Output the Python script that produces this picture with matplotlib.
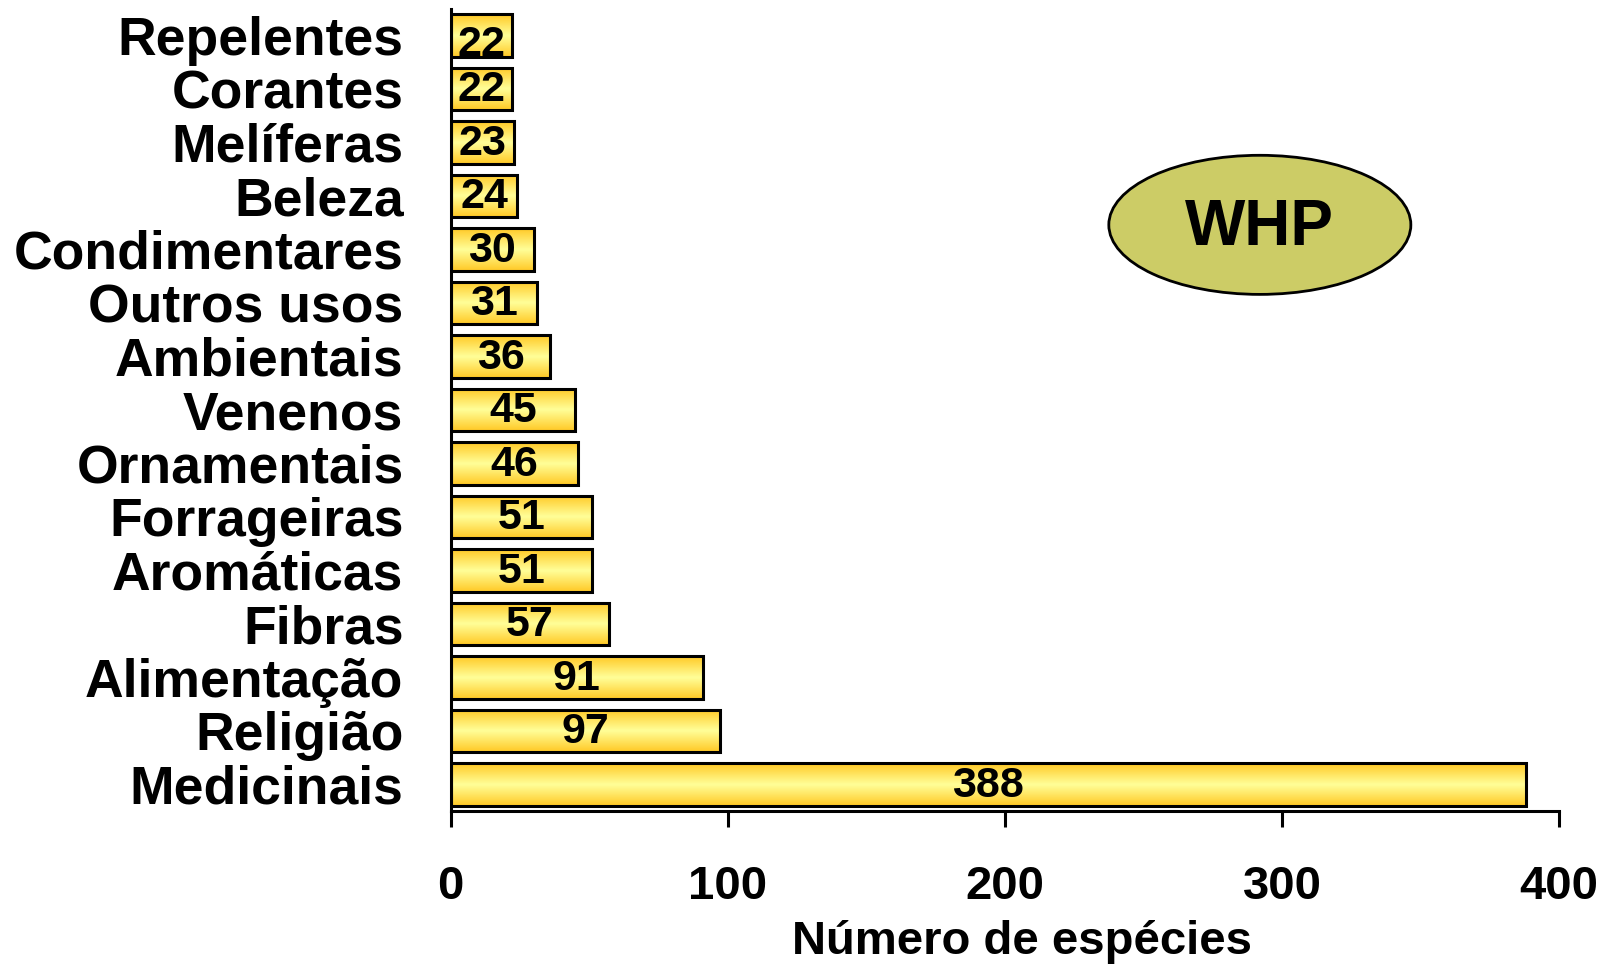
import numpy as np
import matplotlib.pyplot as plt
from matplotlib.colors import LinearSegmentedColormap
from matplotlib.patches import Ellipse

# uses of plant species (bottom to top)
categories = ['Medicinais', 'Religião', 'Alimentação', 'Fibras', 'Aromáticas',
              'Forrageiras', 'Ornamentais', 'Venenos', 'Ambientais', 'Outros usos',
              'Condimentares', 'Beleza', 'Melíferas', 'Corantes', 'Repelentes']
counts = [388, 97, 91, 57, 51, 51, 46, 45, 36, 31, 30, 24, 23, 22, 22]
x_ticks = [0, 100, 200, 300, 400]

plt.rcParams['font.family'] = ['Liberation Sans', 'DejaVu Sans']
plt.rcParams['font.weight'] = 'bold'

fig = plt.figure(figsize=(16.04, 9.68), dpi=100)
ax = fig.add_axes([0.281, 0.162, 0.691, 0.829])

y = np.arange(len(categories))
h = 0.8

# gold -> pale yellow -> gold gradient across each bar
cmap = LinearSegmentedColormap.from_list('gold', ['#FFC926', '#FFFF99', '#FFC926'])
grad = np.linspace(0, 1, 64).reshape(-1, 1)
for yi, v in zip(y, counts):
    ax.imshow(grad, cmap=cmap, aspect='auto', interpolation='bicubic',
              extent=(0, v, yi - h / 2, yi + h / 2), zorder=2)

ax.barh(y, counts, height=h, facecolor='none', edgecolor='black', linewidth=2.2, zorder=3)

for i, (yi, v) in enumerate(zip(y, counts)):
    # the top label sits a bit low in the original
    dy = -7 if i == len(counts) - 1 else -1
    ax.annotate(str(v), (v / 2, yi), xytext=(0, dy), textcoords='offset points',
                ha='center', va='center', fontsize=31, fontweight='bold', zorder=4)

ax.set_xlim(0, 400)
ax.set_ylim(-0.5, 14.5)
ax.set_yticks(y)
ax.set_yticklabels(categories, fontsize=38.5, fontweight='bold')
ax.set_xticks(x_ticks)
ax.set_xticklabels([str(t) for t in x_ticks], fontsize=34, fontweight='bold')
ax.tick_params(axis='y', length=0, pad=34)
ax.tick_params(axis='x', length=11.5, width=2.2, pad=27, direction='out')
ax.set_xlabel('Número de espécies', fontsize=34, fontweight='bold')
ax.xaxis.set_label_coords(0.515, -0.163)
ax.xaxis.label.set_va('center')

for s in ['top', 'right']:
    ax.spines[s].set_visible(False)
for s in ['left', 'bottom']:
    ax.spines[s].set_linewidth(2.2)

ell = Ellipse((292, 10.46), 109, 2.6, facecolor='#CCCC66', edgecolor='black',
              linewidth=2, zorder=5)
ax.add_patch(ell)
ax.text(292, 10.40, 'WHP', ha='center', va='center', fontsize=46,
        fontweight='bold', zorder=6)

plt.savefig('out.png', dpi=100)
